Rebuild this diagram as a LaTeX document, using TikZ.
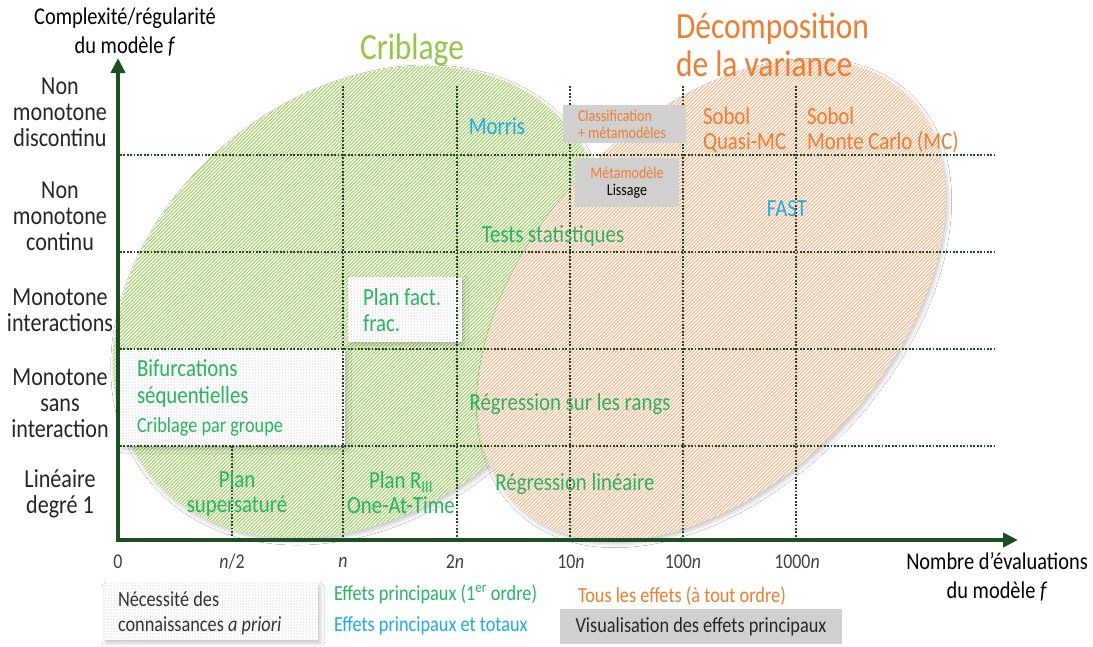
\documentclass[tikz,border=0pt]{standalone}
\usepackage{fontspec}
\setmainfont{Carlito}[FakeStretch=0.85]
\usetikzlibrary{patterns,shapes.geometric,shadows.blur,arrows.meta}
\definecolor{axisgreen}{RGB}{30,78,36}
\definecolor{griddot}{RGB}{35,70,35}
\definecolor{txtgreen}{RGB}{40,180,95}
\definecolor{critgreen}{RGB}{146,200,70}
\definecolor{hatchgreen}{RGB}{150,203,85}
\definecolor{hatchorange}{RGB}{245,175,128}
\definecolor{txtorange}{RGB}{237,125,49}
\definecolor{txtblue}{RGB}{30,170,230}
\definecolor{boxgrey}{RGB}{208,208,208}
\pgfdeclarepatternformonly{diagfine}{\pgfqpoint{-1pt}{-1pt}}{\pgfqpoint{4.5pt}{4.5pt}}{\pgfqpoint{3.5pt}{3.5pt}}{\pgfsetlinewidth{0.75pt}\pgfpathmoveto{\pgfqpoint{0pt}{0pt}}\pgfpathlineto{\pgfqpoint{3.6pt}{3.6pt}}\pgfusepath{stroke}}
\newcommand\fsRow{\fontsize{26}{26}\selectfont}
\newcommand\fsIn{\fontsize{24.5}{25}\selectfont}
\newcommand\fsAx{\fontsize{24}{29}\selectfont}
\newcommand\fsBig{\fontsize{37}{38}\selectfont}
\newcommand\fsLeg{\fontsize{21.5}{25}\selectfont}
\newcommand\fsSm{\fontsize{16.5}{17}\selectfont}
\newcommand\fsTick{\fontsize{21}{21}\selectfont}
\newcommand\fsCrib{\fontsize{21.5}{22}\selectfont}
\tikzset{
  lbl/.style={inner sep=0pt, outer sep=0pt},
  rowlbl/.style={lbl, align=center, font=\fsRow, text=black!85},
  inlbl/.style={lbl, font=\fsIn, text=txtgreen},
  ticklbl/.style={lbl, font=\fsTick, text=black!75},
  gridline/.style={griddot, line width=1.7pt, dash pattern=on 1.7pt off 1.7pt},
  axisline/.style={axisgreen, line width=4pt, -{Triangle[length=15pt,width=14pt]}},
  softshadow/.style={blur shadow={shadow xshift=2pt, shadow yshift=-3pt, shadow blur radius=4pt, shadow opacity=22}},
  boxbase/.style={rectangle, draw=none, inner sep=0pt, outer sep=0pt, anchor=north west},
  greybox/.style={boxbase, fill=boxgrey},
  dotbox/.style={boxbase, softshadow, preaction={fill=white}, pattern=dots, pattern color=black!35},
  blob/.style={ellipse, draw=none, inner sep=0pt, outer sep=0pt, softshadow, preaction={fill=white}, pattern=diagfine}
}
\begin{document}
\begin{tikzpicture}[x=1pt,y=-1pt]
\useasboundingbox[fill=white] (0,0) rectangle (1093,646);

% regions
\node[blob, minimum width=544pt, minimum height=414pt, rotate=40, pattern color=hatchgreen] (crib) at (360,302) {};
\node[blob, minimum width=566pt, minimum height=360pt, rotate=47, pattern color=hatchorange] (decomp) at (712,300) {};

% dotted boxes
\node[dotbox, minimum width=225pt, minimum height=97pt] (bifbox) at (120,349) {};
\node[dotbox, minimum width=114pt, minimum height=65pt] (pffbox) at (348,277) {};
\node[dotbox, minimum width=214pt, minimum height=57pt] (necbox) at (104,583) {};

% grid
\foreach \yy in {155,252,349,446} \draw[gridline] (120,\yy) -- (995,\yy);
\foreach \xx in {343,457,570,683,796} \draw[gridline] (\xx,86) -- (\xx,540);
\draw[gridline] (232,446) -- (232,540);

% grey boxes
\node[greybox, minimum width=123pt, minimum height=38pt] (clbox) at (563,105) {};
\node[greybox, minimum width=104pt, minimum height=49pt] (mlbox) at (575,158) {};
\node[greybox, minimum width=282pt, minimum height=35pt] (vbox) at (560,609) {};

% axes
\coordinate (O) at (118,540);
\coordinate (ytip) at (118,58);
\coordinate (xtip) at (1018,540);
\draw[axisline] ([yshift=-2pt]O) -- (ytip);
\draw[axisline] ([xshift=-2pt]O) -- (xtip);

% axis titles
\node[lbl, font=\fsAx, align=center] (ytitle) at (125,32) {Complexité/régularité\\du modèle \textit{f}};
\node[lbl, font=\fsAx, align=center] (xtitle) at (997,577) {Nombre d’évaluations\\du modèle \textit{f}};
\node[lbl, font=\fsBig, text=critgreen] (tcrib) at (412,50) {Criblage};
\node[lbl, font=\fsBig, text=txtorange, align=left, anchor=west] (tdec) at (676,45) {Décomposition\\de la variance};

% row labels
\node[rowlbl] (row1) at (60,112) {Non\\monotone\\discontinu};
\node[rowlbl] (row2) at (60,216) {Non\\monotone\\continu};
\node[rowlbl] (row3) at (60,310) {Monotone\\interactions};
\node[rowlbl] (row4) at (60,403) {Monotone\\sans\\interaction};
\node[rowlbl] (row5) at (60,494) {Linéaire\\degré 1};

% ticks
\node[ticklbl] (t0) at (118,562) {0};
\node[ticklbl] (t1) at (232,562) {\textit{n}/2};
\node[ticklbl] (t2) at (343,562) {\textit{n}};
\node[ticklbl] (t3) at (455,562) {2\textit{n}};
\node[ticklbl] (t4) at (571,562) {10\textit{n}};
\node[ticklbl] (t5) at (683,562) {100\textit{n}};
\node[ticklbl] (t6) at (797,562) {1000\textit{n}};

% inner labels
\node[inlbl, text=txtblue] (morris) at (497,126) {Morris};
\node[inlbl, text=txtorange, align=left, anchor=west] (sqmc) at (703,130) {Sobol\\Quasi-MC};
\node[inlbl, text=txtorange, align=left, anchor=west] (smc) at (807,130) {Sobol\\Monte Carlo (MC)};
\node[inlbl, text=txtblue] (fast) at (787,209) {FAST};
\node[inlbl] (tests) at (553,236) {Tests statistiques};
\node[inlbl] (regr) at (570,404) {Régression sur les rangs};
\node[inlbl] (regl) at (575,484) {Régression linéaire};
\node[inlbl, align=center] (ss) at (237,493) {Plan\\supersaturé};
\node[inlbl, align=center] (r3) at (401,493) {Plan R\textsubscript{III}\\One-At-Time};
\node[inlbl, align=left, anchor=west, font=\fontsize{24.5}{26}\selectfont] (pff) at (363,310) {Plan fact.\\frac.};
\node[inlbl, align=left, anchor=west, font=\fontsize{24.5}{27}\selectfont] (bif) at (137,383) {Bifurcations\\séquentielles};
\node[lbl, font=\fsCrib, text=txtgreen, anchor=west] (cpg) at (137,427) {Criblage par groupe};

% grey box texts
\node[lbl, font=\fsSm, text=txtorange, align=left, anchor=west] (clt) at (578,124) {Classification\\+ métamodèles};
\node[lbl, font=\fsSm, align=center] (mlt) at (627,183) {\textcolor{txtorange}{Métamodèle}\\Lissage};

% legend
\node[lbl, font=\fsLeg, align=left, anchor=west, text=black!80] (nec) at (118,613) {Nécessité des\\connaissances \textit{a priori}};
\node[lbl, font=\fsLeg, text=txtgreen, anchor=west] (leg1) at (334,594) {Effets principaux (1\textsuperscript{er} ordre)};
\node[lbl, font=\fsLeg, text=txtblue, anchor=west] (leg2) at (334,626) {Effets principaux et totaux};
\node[lbl, font=\fsLeg, text=txtorange, anchor=west] (leg3) at (578,596) {Tous les effets (à tout ordre)};
\node[lbl, font=\fsLeg, text=black!85] (vtxt) at (vbox.center) {Visualisation des effets principaux};
\end{tikzpicture}
\end{document}
